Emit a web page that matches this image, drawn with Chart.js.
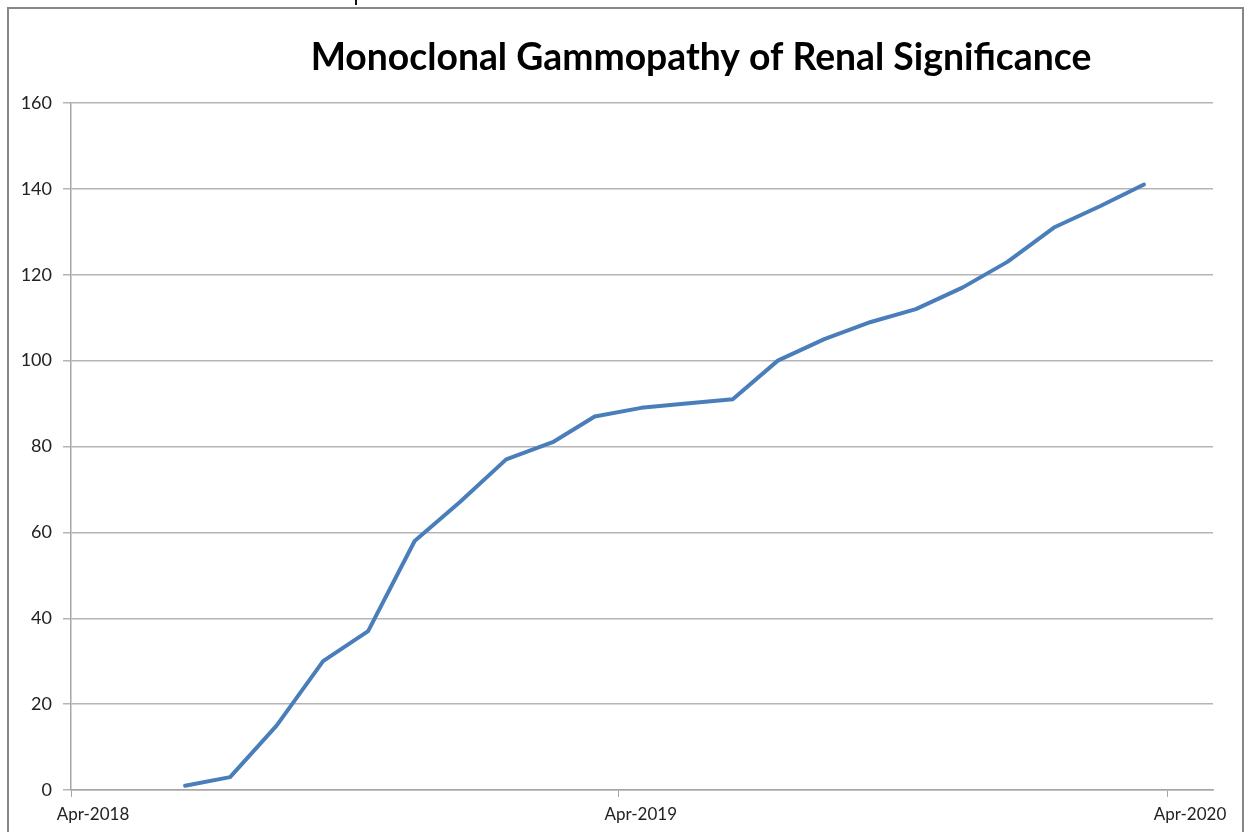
<!DOCTYPE html>
<html lang="en">
<head>
  <meta charset="UTF-8">
  <title>Monoclonal Gammopathy of Renal Significance</title>
  <script src="https://cdn.jsdelivr.net/npm/chart.js"></script>
  <style>
    html, body { margin: 0; padding: 0; background: #fff; overflow: hidden; }
    #wrap { position: relative; width: 1250px; height: 832px; }
    #frame { position: absolute; left: 7px; top: 7px; width: 1237px; height: 900px;
             box-sizing: border-box; border: 2px solid #878787; }
    #mark { position: absolute; left: 355px; top: 0; width: 2px; height: 5px; background: #111; }
    canvas { position: absolute; left: 0; top: 0; }
  </style>
</head>
<body>
  <div id="wrap">
    <div id="frame"></div>
    <div id="mark"></div>
    <canvas id="chart" width="1250" height="832"></canvas>
  </div>

  <script>
    // data (cumulative count, monthly)
    const chartTitle = 'Monoclonal Gammopathy of Renal Significance';
    const dates = [
      '2018-06-16', '2018-07-16', '2018-08-16', '2018-09-16', '2018-10-16', '2018-11-16',
      '2018-12-16', '2019-01-16', '2019-02-16', '2019-03-16', '2019-04-16', '2019-05-16',
      '2019-06-16', '2019-07-16', '2019-08-16', '2019-09-16', '2019-10-16', '2019-11-16',
      '2019-12-16', '2020-01-16', '2020-02-16', '2020-03-16'
    ];
    const counts = [1, 3, 15, 30, 37, 58, 67, 77, 81, 87, 89, 90, 91, 100, 105, 109, 112, 117, 123, 131, 136, 141];

    // x axis
    const axisStart = '2018-04-01';
    const axisEnd = '2020-05-01';
    const tickDates = ['2018-04-01', '2019-04-01', '2020-04-01'];
    const tickLabels = ['Apr-2018', 'Apr-2019', 'Apr-2020'];

    // y axis
    const yMin = 0, yMax = 160, yStep = 20;

    // days since axis start, so the linear scale behaves like a date axis
    const dayOf = d => (Date.parse(d) - Date.parse(axisStart)) / 86400000;

    const points = dates.map((d, i) => ({ x: dayOf(d), y: counts[i] }));
    const tickValues = tickDates.map(dayOf);

    const FONT = 'Lato, "Open Sans", sans-serif';

    // title is placed off-centre like the original, fitted to its width
    const titlePlugin = {
      id: 'offsetTitle',
      afterDraw(chart) {
        const ctx = chart.ctx;
        ctx.save();
        ctx.font = 'bold 100px ' + FONT;
        const w = ctx.measureText(chartTitle).width;
        const size = 100 * 780 / w;
        ctx.font = 'bold ' + size.toFixed(1) + 'px ' + FONT;
        ctx.fillStyle = '#000';
        ctx.textAlign = 'center';
        ctx.textBaseline = 'alphabetic';
        ctx.fillText(chartTitle, 701, 70);
        ctx.restore();
      }
    };

    new Chart(document.getElementById('chart'), {
      type: 'line',
      data: {
        datasets: [{
          data: points,
          borderColor: '#4a7ebb',
          borderWidth: 4,
          pointRadius: 0,
          tension: 0,
          borderCapStyle: 'round',
          borderJoinStyle: 'round'
        }]
      },
      options: {
        responsive: false,
        animation: false,
        layout: { autoPadding: false, padding: { top: 103, right: 37, left: 0, bottom: 0 } },
        plugins: {
          legend: { display: false },
          tooltip: { enabled: false },
          title: { display: false }
        },
        scales: {
          x: {
            type: 'linear',
            min: 0,
            max: dayOf(axisEnd),
            afterFit: s => { s.height = 42; },
            afterBuildTicks: s => { s.ticks = tickValues.map(v => ({ value: v })); },
            grid: { drawOnChartArea: false, drawTicks: true, tickLength: 7, color: '#a6a6a6', lineWidth: 1 },
            border: { display: true, color: '#a6a6a6', width: 1.5 },
            ticks: {
              autoSkip: false,
              maxRotation: 0,
              padding: 7,
              labelOffset: 22,
              color: '#222',
              font: { family: FONT, size: 17 },
              callback: (v) => {
                const i = tickValues.indexOf(v);
                return i >= 0 ? tickLabels[i] : '';
              }
            }
          },
          y: {
            min: yMin,
            max: yMax,
            afterFit: s => { s.width = 71; },
            grid: { color: '#b5b5b5', lineWidth: 1.5, tickLength: 8 },
            border: { display: true, color: '#a6a6a6', width: 1.5 },
            ticks: {
              stepSize: yStep,
              padding: 11,
              color: '#222',
              font: { family: FONT, size: 18 }
            }
          }
        }
      },
      plugins: [titlePlugin]
    });
  </script>
</body>
</html>
